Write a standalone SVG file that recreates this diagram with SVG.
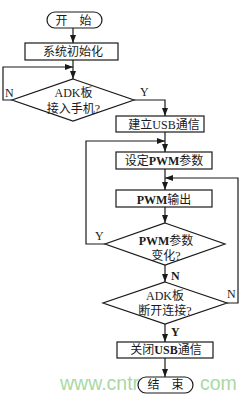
<svg xmlns="http://www.w3.org/2000/svg" width="245" height="398" viewBox="0 0 245 398">
<style>
.s{fill:#fff;stroke:#1a1a1a;stroke-width:1.2}
.t{font-family:"Liberation Serif","Noto Sans CJK SC",serif;font-size:12px;fill:#1a1a1a;text-anchor:middle}
.l{font-family:"Liberation Serif",serif;font-size:12px;fill:#1a1a1a}
.c{fill:none;stroke:#1a1a1a;stroke-width:1.2}
.wm{font-family:"Liberation Sans",Arial,sans-serif;font-size:19.5px;fill:#a9d9a3}
</style>
<defs>
<marker id="a" viewBox="0 0 8 6" refX="8" refY="3" markerWidth="8" markerHeight="6" markerUnits="userSpaceOnUse" orient="auto">
<path d="M0,0 L8,3 L0,6 Z" fill="#1a1a1a"/>
</marker>
</defs>
<rect width="245" height="398" fill="#fff"/>
<text class="wm" x="60" y="390">www.cntr</text>
<text class="wm" x="200" y="390">com</text>
<g id="connectors">
<path class="c" d="M73,28 V43" marker-end="url(#a)"/>
<path class="c" d="M73,60 V79" marker-end="url(#a)"/>
<path class="c" d="M12,100 H3 V67 H73" marker-end="url(#a)"/>
<path class="c" d="M134,100 H165 V116" marker-end="url(#a)"/>
<path class="c" d="M165,132 V152" marker-end="url(#a)"/>
<path class="c" d="M105,244 H86 V141 H165" marker-end="url(#a)"/>
<path class="c" d="M165,169 V190" marker-end="url(#a)"/>
<path class="c" d="M227,303 H238 V178 H165" marker-end="url(#a)"/>
<path class="c" d="M165,207 V223" marker-end="url(#a)"/>
<path class="c" d="M165,265 V282" marker-end="url(#a)"/>
<path class="c" d="M165,324 V342" marker-end="url(#a)"/>
<path class="c" d="M165,358 V377" marker-end="url(#a)"/>
<text class="l" x="5" y="97">N</text>
<text class="l" x="140" y="96">Y</text>
<text class="l" x="95" y="240">Y</text>
<text class="l" x="171" y="280" font-weight="bold">N</text>
<text class="l" x="227" y="298">N</text>
<text class="l" x="171" y="336" font-weight="bold">Y</text>
</g>
<g id="start">
<rect class="s" x="47" y="12" width="55" height="16" rx="8"/>
<text class="t" x="73.5" y="25">开　始</text>
</g>
<g id="init">
<rect class="s" x="25" y="43" width="93" height="17"/>
<text class="t" x="73" y="56">系统初始化</text>
</g>
<g id="d1">
<polygon class="s" points="73,79 134,100 73,121 12,100"/>
<text class="t" x="73.5" y="97">ADK板</text>
<text class="t" x="73.5" y="113">接入手机?</text>
</g>
<g id="usb">
<rect class="s" x="116" y="116" width="88" height="16"/>
<text class="t" x="164" y="129">建立USB通信</text>
</g>
<g id="setpwm">
<rect class="s" x="116" y="152" width="96" height="17"/>
<text class="t" x="164" y="165">设定<tspan font-weight="bold">PWM</tspan>参数</text>
</g>
<g id="pwmout">
<rect class="s" x="116" y="190" width="96" height="17"/>
<text class="t" x="164" y="204"><tspan font-weight="bold">PWM</tspan>输出</text>
</g>
<g id="d2">
<polygon class="s" points="165,223 225,244 165,265 105,244"/>
<text class="t" x="166" y="245"><tspan font-weight="bold">PWM</tspan>参数</text>
<text class="t" x="166" y="260">变化?</text>
</g>
<g id="d3">
<polygon class="s" points="165,282 227,303 165,324 103,303"/>
<text class="t" x="165" y="300">ADK板</text>
<text class="t" x="165" y="315">断开连接?</text>
</g>
<g id="close">
<rect class="s" x="117" y="342" width="96" height="16"/>
<text class="t" x="166" y="354">关闭<tspan font-weight="bold">USB</tspan>通信</text>
</g>
<g id="end">
<rect class="s" x="138" y="377" width="55" height="16" rx="8"/>
<text class="t" x="165.5" y="389">结　束</text>
</g>
</svg>
